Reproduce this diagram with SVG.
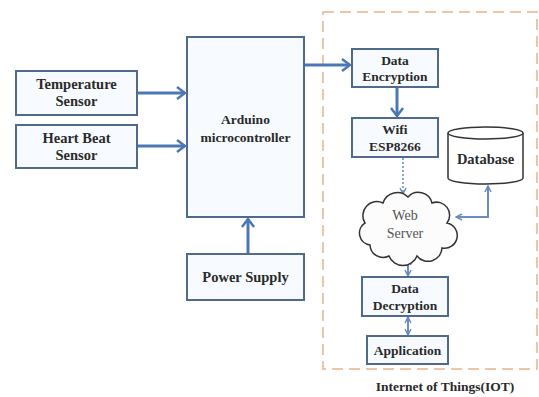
<svg xmlns="http://www.w3.org/2000/svg" width="539" height="397" viewBox="0 0 539 397">
<style>
.box{fill:#f7fbff;stroke:#4f6a8c;stroke-width:2}
.lbl{font-family:"Liberation Serif","Times New Roman",serif;font-weight:bold;font-size:13.5px;fill:#2a2a2a;text-anchor:middle}
.big{font-size:14.5px}
.thin{font-family:"Liberation Serif","Times New Roman",serif;font-size:14px;fill:#555;text-anchor:middle}
.arr{stroke:#4a78b5;stroke-width:3;fill:none}
.arr2{stroke:#6a8cc0;stroke-width:2;fill:none}
</style>
<defs>
<marker id="big" viewBox="0 0 10 14" refX="9" refY="7" markerWidth="10" markerHeight="14" markerUnits="userSpaceOnUse" orient="auto">
<path d="M1,1 L9,7 L1,13" fill="none" stroke="#4a78b5" stroke-width="2.5"/>
</marker>
<marker id="sm" viewBox="0 0 8 8" refX="7" refY="4" markerWidth="8" markerHeight="8" markerUnits="userSpaceOnUse" orient="auto-start-reverse">
<path d="M1,1 L7,4 L1,7" fill="none" stroke="#6a8cc0" stroke-width="1.5"/>
</marker>
</defs>
<rect x="323" y="12" width="214" height="357" fill="none" stroke="#e8b48a" stroke-width="1.5" stroke-dasharray="11,6"/>
<g id="connectors">
<line class="arr" x1="137" y1="93" x2="185" y2="93" marker-end="url(#big)"/>
<line class="arr" x1="137" y1="146" x2="185" y2="146" marker-end="url(#big)"/>
<line class="arr" x1="248" y1="254" x2="248" y2="219" marker-end="url(#big)"/>
<line class="arr" x1="304" y1="65" x2="350" y2="65" marker-end="url(#big)"/>
<line class="arr" x1="397" y1="88" x2="397" y2="116" marker-end="url(#big)"/>
<line x1="403" y1="158" x2="403" y2="194" stroke="#5b8fd0" stroke-width="1.5" stroke-dasharray="2,2" marker-end="url(#sm)"/>
<polyline class="arr2" points="456,217 488,217 488,186" marker-start="url(#sm)" marker-end="url(#sm)"/>
<line class="arr2" x1="408" y1="259" x2="408" y2="276" marker-start="url(#sm)" marker-end="url(#sm)"/>
<line class="arr2" x1="408" y1="317" x2="408" y2="335" marker-start="url(#sm)" marker-end="url(#sm)"/>
</g>
<g id="temperature-sensor">
<rect class="box" x="16" y="71" width="121" height="44"/>
<text class="lbl big" x="76.5" y="89">Temperature</text>
<text class="lbl big" x="76.5" y="106">Sensor</text>
</g>
<g id="heart-beat-sensor">
<rect class="box" x="16" y="125" width="121" height="43"/>
<text class="lbl big" x="76.5" y="143">Heart Beat</text>
<text class="lbl big" x="76.5" y="160">Sensor</text>
</g>
<g id="arduino">
<rect class="box" x="187" y="37" width="117" height="180" fill="#fbfdff"/>
<text class="lbl" x="245.5" y="124">Arduino</text>
<text class="lbl" x="245.5" y="142">microcontroller</text>
</g>
<g id="power-supply">
<rect class="box" x="187" y="254" width="117" height="46"/>
<text class="lbl big" x="245.5" y="282">Power Supply</text>
</g>
<g id="data-encryption">
<rect class="box" x="352" y="49" width="86" height="38"/>
<text class="lbl" x="395" y="65">Data</text>
<text class="lbl" x="395" y="81">Encryption</text>
</g>
<g id="wifi">
<rect class="box" x="352" y="118" width="86" height="39"/>
<text class="lbl" x="395" y="134">Wifi</text>
<text class="lbl" x="395" y="151">ESP8266</text>
</g>
<g id="database">
<path d="M448,133 L448,178 A37.5,6 0 0 0 523,178 L523,133" fill="#fff" stroke="#333" stroke-width="1.5"/>
<ellipse cx="485.5" cy="133" rx="37.5" ry="6" fill="#fff" stroke="#333" stroke-width="1.5"/>
<text class="lbl big" x="485.5" y="164">Database</text>
</g>
<g id="web-server">
<path d="M370,245 a12,12 0 0 1 -5,-22 a14,14 0 0 1 18,-20 a15,15 0 0 1 25,-6 a14,14 0 0 1 24,6 a13,13 0 0 1 15,20 a12,12 0 0 1 -5,25 a14,14 0 0 1 -25,8 a15,15 0 0 1 -28,0 a13,13 0 0 1 -19,-11 Z" fill="#fcfcfc" stroke="#333" stroke-width="1.5"/>
<text class="thin" x="405" y="220">Web</text>
<text class="thin" x="405" y="238">Server</text>
</g>
<g id="data-decryption">
<rect class="box" x="362" y="277" width="86" height="39"/>
<text class="lbl" x="405" y="293">Data</text>
<text class="lbl" x="405" y="310">Decryption</text>
</g>
<g id="application">
<rect class="box" x="367" y="336" width="81" height="28"/>
<text class="lbl" x="407.5" y="355">Application</text>
</g>
<text class="lbl" x="445" y="391">Internet of Things(IOT)</text>
</svg>
